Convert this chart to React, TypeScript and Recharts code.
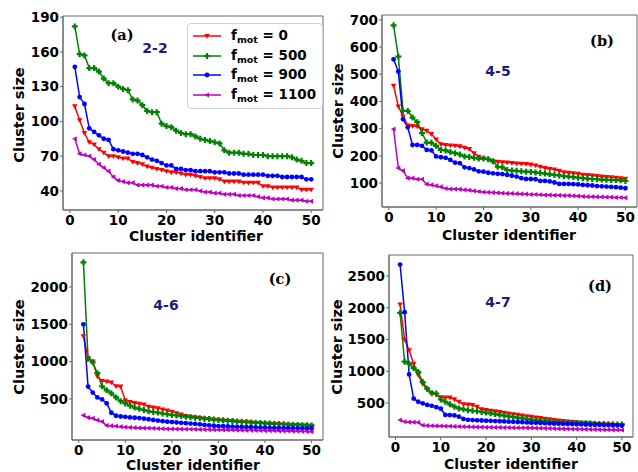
import { Legend, Line, LineChart, ReferenceArea, XAxis, YAxis } from 'recharts'

// cluster identifiers 1..50
const IDS = [
  1, 2, 3, 4, 5, 6, 7, 8, 9, 10, 11, 12, 13, 14, 15, 16, 17, 18, 19, 20,
  21, 22, 23, 24, 25, 26, 27, 28, 29, 30, 31, 32, 33, 34, 35, 36, 37, 38, 39, 40,
  41, 42, 43, 44, 45, 46, 47, 48, 49, 50,
]
const X_TICKS = [0, 10, 20, 30, 40, 50]

// (a) 2-2
const A_F0 = [113,101,90,82,80,76,73,70,70,69,68,68,65,64,63,61,60,59,58,57,56,56,55,54,54,53,52,51,51,51,50,48,48,48,48,47,47,47,47,44,44,43,43,43,43,43,43,41,41,41]
const A_F500 = [182,158,157,146,146,143,137,133,133,130,128,127,119,118,114,109,108,108,98,96,95,92,90,89,89,87,85,84,83,82,81,75,73,73,73,72,72,71,71,71,70,70,70,70,70,69,67,66,64,64]
const A_F900 = [147,121,115,94,91,88,85,84,76,75,74,73,72,72,71,69,67,66,64,62,62,59,59,58,58,57,57,57,57,56,56,56,55,55,55,54,54,54,54,54,53,53,53,52,52,52,52,52,50,50]
const A_F1100 = [85,72,71,70,67,63,60,57,52,49,48,47,47,45,45,45,45,44,44,43,43,42,42,41,41,41,40,39,39,38,38,37,37,37,36,36,36,36,35,34,34,33,33,33,33,32,32,32,31,31]
const A_TICKS = [40, 70, 100, 130, 160, 190]

// (b) 4-5
const B_F0 = [458,382,345,312,310,308,298,292,280,260,243,240,238,237,235,230,225,210,197,190,186,180,178,177,176,174,172,171,170,168,165,160,155,152,150,145,140,138,136,134,131,130,128,126,124,122,121,120,118,116]
const B_F500 = [680,565,366,365,341,324,284,249,248,237,222,220,214,210,205,198,196,193,190,190,188,180,160,158,148,146,145,143,142,141,139,137,135,132,130,128,125,124,122,120,118,116,115,114,113,112,111,111,110,108]
const B_F900 = [555,510,335,305,240,240,237,222,220,198,195,193,185,175,173,158,155,150,143,142,138,136,134,133,130,127,124,118,115,115,114,108,108,106,102,97,97,97,96,95,93,92,91,89,88,87,86,85,83,81]
const B_F1100 = [298,155,145,118,118,114,114,96,93,90,86,80,78,78,77,75,74,71,69,67,66,65,64,63,62,62,61,60,59,58,58,57,56,56,55,55,54,54,53,52,51,50,50,49,49,48,48,47,47,46]
const B_TICKS = [100, 200, 300, 400, 500, 600, 700]

// (c) 4-6
const C_F0 = [1340,1050,1000,800,740,735,720,670,665,480,460,445,435,425,395,385,375,360,345,330,310,290,272,262,252,244,236,229,222,216,210,205,200,195,191,187,183,179,175,171,167,164,161,158,155,152,149,146,143,140]
const C_F500 = [2330,1040,990,845,670,615,575,520,470,440,410,385,368,352,335,325,318,305,295,285,278,270,262,255,248,242,236,230,224,218,213,208,203,198,194,190,186,182,178,174,170,167,164,161,158,155,152,149,146,143]
const C_F900 = [1500,665,585,520,495,440,315,275,265,260,252,248,244,236,228,218,210,202,195,190,185,180,175,170,166,160,152,146,141,137,134,131,129,127,125,123,121,119,117,115,113,112,111,110,109,108,107,106,105,104]
const C_F1100 = [280,250,240,215,195,145,140,135,128,122,118,115,112,110,108,106,104,102,100,98,97,96,95,94,93,92,90,89,88,87,86,85,84,83,82,80,79,78,77,76,75,74,73,72,71,70,68,66,64,62]
const C_TICKS = [500, 1000, 1500, 2000]

// (d) 4-7
const D_F0 = [2050,1500,1330,1120,940,800,710,655,628,590,588,585,558,520,480,475,470,440,400,390,380,372,360,348,335,325,314,303,293,283,273,263,253,243,234,226,218,210,203,197,191,185,180,175,170,165,161,157,153,150]
const D_F500 = [1920,1150,1120,1050,990,830,725,655,650,555,520,480,442,415,400,388,378,370,360,350,338,326,314,302,291,280,269,258,248,239,231,223,215,208,202,198,194,190,188,186,183,180,177,174,171,169,167,165,162,160]
const D_F900 = [2680,1930,950,570,520,495,470,455,435,410,312,310,305,285,250,235,232,228,225,222,219,216,213,210,207,204,201,198,195,191,188,185,182,179,176,174,172,170,168,166,164,162,160,158,156,154,152,150,148,145]
const D_F1100 = [232,205,200,198,195,150,145,142,140,138,136,134,132,130,128,126,124,122,120,118,117,116,115,114,113,112,111,110,109,108,106,104,102,100,98,96,94,92,90,88,87,86,85,84,82,81,80,78,77,75]
const D_TICKS = [500, 1000, 1500, 2000, 2500]

const SERIES = [
  { key: 'f0', label: '0', color: '#ff0000', marker: 'down' },
  { key: 'f500', label: '500', color: '#008000', marker: 'plus' },
  { key: 'f900', label: '900', color: '#0000ff', marker: 'circle' },
  { key: 'f1100', label: '1100', color: '#bf00bf', marker: 'left' },
]

const FONT = '"DejaVu Sans", sans-serif'
const FRAME = '#666'
const X_DOMAIN = [-1.45, 52.45]

function rows(f0: number[], f500: number[], f900: number[], f1100: number[]) {
  return IDS.map((id, i) => ({ id, f0: f0[i], f500: f500[i], f900: f900[i], f1100: f1100[i] }))
}

function Marker({ cx, cy, type, color }: { cx?: number; cy?: number; type: string; color: string }) {
  if (cx == null || cy == null) return null
  if (type === 'down')
    return <path d={`M${cx - 2.8},${cy - 2} L${cx + 2.8},${cy - 2} L${cx},${cy + 2.8} Z`} fill={color} />
  if (type === 'plus')
    return (
      <path
        d={`M${cx - 1.1},${cy - 3} h2.2 v1.9 h1.9 v2.2 h-1.9 v1.9 h-2.2 v-1.9 h-1.9 v-2.2 h1.9 Z`}
        fill={color}
      />
    )
  if (type === 'circle') return <circle cx={cx} cy={cy} r={2.4} fill={color} />
  return <path d={`M${cx - 2.8},${cy} L${cx + 2},${cy - 2.6} L${cx + 2},${cy + 2.6} Z`} fill={color} />
}

function LegendBox() {
  return (
    <div
      style={{
        border: '1px solid #d0d0d0',
        borderRadius: 4,
        background: 'rgba(255,255,255,0.85)',
        padding: '2px 6px 3px 4px',
        fontFamily: FONT,
        fontWeight: 700,
        fontSize: 13.5,
        color: '#000',
      }}
    >
      {SERIES.map((s) => (
        <div key={s.key} style={{ display: 'flex', alignItems: 'center', height: 19.7 }}>
          <svg width={30} height={10} style={{ marginRight: 9 }}>
            <line x1={1} y1={5} x2={29} y2={5} stroke={s.color} strokeWidth={1.5} />
            <Marker cx={15} cy={5} type={s.marker} color={s.color} />
          </svg>
          <span style={{ whiteSpace: 'nowrap' }}>
            f<sub style={{ fontSize: 9.5, verticalAlign: '-3px' }}>mot</sub> = {s.label}
          </span>
        </div>
      ))}
    </div>
  )
}

interface PanelProps {
  box: [number, number, number, number]
  data: Record<string, number>[]
  yDomain: [number, number]
  yTicks: number[]
  legend?: boolean
}

function Panel({ box, data, yDomain, yTicks, legend }: PanelProps) {
  const [x0, y0, x1, y1] = box
  const left = 60
  const top = 10
  const width = x1 - x0 + left + 4
  const height = y1 - y0 + top + 30
  const tickStyle = { fontSize: 13.5, fontWeight: 700, fill: '#000', fontFamily: FONT }
  return (
    <div style={{ position: 'absolute', left: x0 - left, top: y0 - top }}>
      <LineChart width={width} height={height} data={data} margin={{ top, right: 4, bottom: 0, left: 0 }}>
        <XAxis
          type="number"
          dataKey="id"
          domain={X_DOMAIN}
          ticks={X_TICKS}
          allowDataOverflow
          height={30}
          tickSize={3}
          tickMargin={2}
          tick={tickStyle}
          stroke={FRAME}
        />
        <YAxis
          type="number"
          domain={yDomain}
          ticks={yTicks}
          allowDataOverflow
          width={left}
          tickSize={3}
          tickMargin={1}
          tick={tickStyle}
          stroke={FRAME}
        />
        <ReferenceArea
          x1={X_DOMAIN[0]}
          x2={X_DOMAIN[1]}
          y1={yDomain[0]}
          y2={yDomain[1]}
          fill="none"
          stroke={FRAME}
          strokeWidth={1}
        />
        {SERIES.map((s) => (
          <Line
            key={s.key}
            dataKey={s.key}
            name={s.label}
            stroke={s.color}
            strokeWidth={1.5}
            isAnimationActive={false}
            dot={(p: any) => (
              <Marker key={`${s.key}-${p.index}`} cx={p.cx} cy={p.cy} type={s.marker} color={s.color} />
            )}
            activeDot={false}
          />
        ))}
        {legend && (
          <Legend
            layout="vertical"
            align="center"
            verticalAlign="middle"
            content={() => <LegendBox />}
            wrapperStyle={{ left: 184, top: 17, width: 'auto' }}
          />
        )}
      </LineChart>
    </div>
  )
}

function Text({ x, y, children, style }: { x: number; y: number; children: any; style?: any }) {
  return (
    <div
      style={{
        position: 'absolute',
        left: x,
        top: y,
        transform: 'translate(-50%, -50%)',
        whiteSpace: 'nowrap',
        fontFamily: FONT,
        fontWeight: 700,
        fontSize: 14,
        lineHeight: '14px',
        color: '#000',
        ...style,
      }}
    >
      {children}
    </div>
  )
}

const tag = { fontFamily: '"DejaVu Serif", serif', fontSize: 14.5 }
const combo = { color: '#1a1a80', fontSize: 14 }
const yLab = { transform: 'translate(-50%, -50%) rotate(-90deg)', fontSize: 14.5 }

export default function App() {
  return (
    <div style={{ position: 'absolute', left: 0, top: 0, width: 638, height: 472, overflow: 'hidden', background: '#fff' }}>
      <Panel box={[63, 16, 323, 210]} data={rows(A_F0, A_F500, A_F900, A_F1100)} yDomain={[23.5, 191]} yTicks={A_TICKS} legend />
      <Panel box={[382, 15, 637, 207]} data={rows(B_F0, B_F500, B_F900, B_F1100)} yDomain={[12, 718]} yTicks={B_TICKS} />
      <Panel box={[72, 253, 323, 440]} data={rows(C_F0, C_F500, C_F900, C_F1100)} yDomain={[-50, 2455]} yTicks={C_TICKS} />
      <Panel box={[389, 255, 633, 437]} data={rows(D_F0, D_F500, D_F900, D_F1100)} yDomain={[-35, 2830]} yTicks={D_TICKS} />

      <Text x={19} y={115} style={yLab}>Cluster size</Text>
      <Text x={338} y={111} style={yLab}>Cluster size</Text>
      <Text x={19} y={347} style={yLab}>Cluster size</Text>
      <Text x={337} y={347} style={yLab}>Cluster size</Text>

      <Text x={196} y={236}>Cluster identifier</Text>
      <Text x={509} y={235}>Cluster identifier</Text>
      <Text x={193} y={465}>Cluster identifier</Text>
      <Text x={511} y={464}>Cluster identifier</Text>

      <Text x={122} y={35} style={tag}>(a)</Text>
      <Text x={602} y={41} style={tag}>(b)</Text>
      <Text x={280} y={279} style={tag}>(c)</Text>
      <Text x={600} y={286} style={tag}>(d)</Text>

      <Text x={155} y={48} style={combo}>2-2</Text>
      <Text x={498} y={71} style={combo}>4-5</Text>
      <Text x={166} y={305} style={combo}>4-6</Text>
      <Text x={498} y={302} style={combo}>4-7</Text>
    </div>
  )
}
